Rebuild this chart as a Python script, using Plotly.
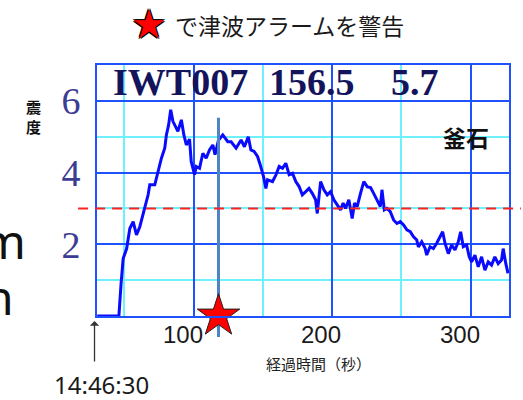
import plotly.graph_objects as go

# ---- data ----
time_s = [30.5, 46.1, 47.6, 49.2, 51.7, 54.0, 56.4, 58.8, 61.2, 64.8, 67.2, 68.4, 72.0, 74.4,
          76.8, 79.2, 80.4, 82.0, 83.5, 85.1, 86.8, 88.7, 91.2, 93.0, 94.8, 97.1, 98.3,
          100.7, 101.9, 104.3, 106.7, 109.1, 111.5, 113.9, 115.5, 118.0, 121.1, 124.7,
          127.1, 130.7, 134.3, 136.7, 139.5, 141.4, 143.7, 146.2, 148.1, 150.5, 152.2,
          153.4, 157.0, 159.4, 161.8, 164.2, 166.6, 169.0, 171.4, 173.8, 176.2, 178.5,
          181.0, 183.3, 185.7, 188.1, 189.3, 191.7, 194.1, 196.5, 198.9, 201.3, 203.7,
          206.1, 208.0, 209.7, 212.1, 214.5, 216.2, 218.1, 220.5, 222.9, 225.5, 227.8,
          230.0, 232.4, 234.8, 236.0, 237.7, 239.6, 242.0, 244.4, 246.8, 249.2, 251.6,
          254.0, 256.4, 258.8, 261.1, 262.3, 264.7, 267.2, 268.3, 270.7, 273.1, 275.5,
          277.9, 279.8, 281.5, 283.9, 286.3, 288.7, 291.1, 292.8, 294.7, 297.1, 299.0,
          300.7, 303.1, 305.5, 307.9, 310.3, 312.7, 315.1, 317.5, 319.9, 322.3, 323.5,
          325.4, 327.0]
intensity = [0.0, 0.0, 0.86, 1.6, 1.88, 2.44, 2.63, 2.26, 2.49, 3.0, 3.38, 3.66, 3.66, 4.03,
             4.4, 4.68, 5.05, 5.33, 5.75, 5.43, 5.3, 5.15, 5.47, 5.05, 4.77, 4.93, 4.31,
             3.94, 4.17, 4.12, 4.54, 4.40, 4.63, 4.77, 4.5, 4.9, 5.05, 4.86,
             4.86, 4.68, 4.91, 4.72, 5.0, 4.63, 4.59, 4.45, 4.22, 3.89, 3.56,
             3.8, 3.75, 3.93, 4.17, 4.12, 4.26, 3.94, 3.98, 3.75, 3.61, 3.38,
             3.47, 3.56, 3.42, 3.24, 2.86, 3.75, 3.52, 3.38, 3.47, 3.24, 3.1,
             2.96, 3.15, 3.0, 3.24, 2.72, 3.15, 3.05, 3.42, 3.75, 3.6, 3.58,
             3.42, 3.24, 3.05, 3.52, 2.96, 3.0, 2.91, 2.68, 2.58, 2.63, 2.54,
             2.40, 2.35, 2.21, 2.12, 1.93, 2.07, 1.88, 1.70, 1.93, 1.88, 2.03,
             2.21, 2.35, 2.03, 1.74, 1.98, 1.84, 2.07, 2.35, 1.93, 1.98, 1.65,
             1.51, 1.70, 1.37, 1.65, 1.28, 1.51, 1.42, 1.65, 1.46, 1.56, 1.88,
             1.46, 1.19]

x_ticks = [100, 200, 300]
x_tick_text = ["100", "200", "300"]
y_ticks = [2, 4, 6]
y_tick_text = ["2", "4", "6"]
x_range = [30.3, 327.7]
y_range = [0, 7]

alarm_time = 118.0
alarm_line_top = 5.53
alarm_threshold = 3.0

header_parts = ["IWT007", "156.5", "5.7"]
station = "釜石"
y_title = "震<br>度"
x_title = "経過時間（秒）"
start_time = "14:46:30"
top_note = "で津波アラームを警告"
side_fragments = ["m", "n"]

# ---- geometry helpers (pixel -> paper) ----
W, H = 523, 400
L, R, T, B = 97, 12, 65, 84
PW, PH = W - L - R, H - T - B


def px_x(p):
    return (p - L) / PW


def px_y(p):
    return (H - B - p) / PH


BLUE = "#1f52ff"
CYAN = "#6ff0ff"

fig = go.Figure()
fig.add_trace(go.Scatter(x=time_s, y=intensity, mode="lines",
                         line=dict(color="#0a0aff", width=3), hoverinfo="skip",
                         showlegend=False))
fig.add_trace(go.Scatter(x=[alarm_time, alarm_time], y=[0, alarm_line_top], mode="lines",
                         line=dict(color="#4f84c4", width=3), showlegend=False))
fig.add_trace(go.Scatter(x=[alarm_time], y=[0], mode="markers", cliponaxis=False,
                         marker=dict(symbol="star", size=32, color="#ff0000",
                                     line=dict(color="#222222", width=1)),
                         showlegend=False))

axis_common = dict(showline=True, mirror=True, linecolor=BLUE, linewidth=2,
                   showgrid=True, gridcolor=BLUE, gridwidth=2, zeroline=False,
                   ticks="")
fig.update_xaxes(range=x_range, tickvals=x_ticks, showticklabels=False,
                 minor=dict(tick0=0, dtick=50, showgrid=True, gridcolor=CYAN, gridwidth=1.5),
                 **axis_common)
fig.update_yaxes(range=y_range, tickvals=y_ticks, ticktext=y_tick_text,
                 tickfont=dict(family="Liberation Serif", size=38, color="#3c3c92"),
                 ticklabelstandoff=7,
                 minor=dict(tick0=0, dtick=1, showgrid=True, gridcolor=CYAN, gridwidth=1.5),
                 **axis_common)

fig.add_shape(type="line", xref="paper", yref="y", x0=px_x(78), x1=px_x(523),
              y0=alarm_threshold, y1=alarm_threshold,
              line=dict(color="#ff2020", width=2, dash="10px,7px"))
fig.add_shape(type="line", xref="x", yref="paper", x0=alarm_time, x1=alarm_time,
              y0=px_y(337), y1=0, line=dict(color="#4f84c4", width=3), layer="below")

ann = []
for v, t in zip(x_ticks, x_tick_text):
    ann.append(dict(x=v, xref="x", y=px_y(334), yref="paper", text=t, showarrow=False,
                    xshift=-11, xanchor="center", yanchor="middle",
                    font=dict(family="Liberation Sans", size=24, color="#1a1a1a")))

header_x = [181, 313, 417]
for t, xp in zip(header_parts, header_x):
    ann.append(dict(x=px_x(xp), y=px_y(82), xref="paper", yref="paper", text="<b>%s</b>" % t,
                    showarrow=False, xanchor="center", yanchor="middle",
                    font=dict(family="Liberation Serif", size=38, color="#14145c")))

ann.append(dict(x=px_x(468), y=px_y(137), xref="paper", yref="paper",
                text="<b>%s</b>" % station, showarrow=False, xanchor="center",
                yanchor="middle", font=dict(family="Noto Sans CJK JP", size=23, color="#111111")))
ann.append(dict(x=px_x(33), y=px_y(116), xref="paper", yref="paper",
                text="<b>%s</b>" % y_title, showarrow=False, xanchor="center",
                yanchor="middle", font=dict(family="Noto Sans CJK JP", size=15, color="#111111")))
ann.append(dict(x=px_x(320), y=px_y(363), xref="paper", yref="paper", text=x_title,
                showarrow=False, xanchor="center", yanchor="middle",
                font=dict(family="Noto Sans CJK JP", size=15, color="#222222")))
ann.append(dict(x=px_x(102), y=px_y(384), xref="paper", yref="paper", text=start_time,
                showarrow=False, xanchor="center", yanchor="middle",
                font=dict(family="Noto Sans", size=24, color="#1a1a1a")))
# arrow pointing to the start of the record
ann.append(dict(x=px_x(94.5), y=px_y(321), xref="paper", yref="paper", text="",
                showarrow=True, ax=0, ay=42, arrowhead=1, arrowsize=1.2, arrowwidth=1.3,
                arrowcolor="#333333"))
# top note with star
ann.append(dict(x=px_x(149), y=px_y(24), xref="paper", yref="paper", text="★",
                showarrow=False, xanchor="center", yanchor="middle",
                font=dict(family="DejaVu Sans", size=40, color="#ff0000",
                          shadow="-1px -1px 0 #000, 1px -1px 0 #000, -1px 1px 0 #000, 1px 1px 0 #000")))
ann.append(dict(x=px_x(173), y=px_y(25), xref="paper", yref="paper", text=top_note,
                showarrow=False, xanchor="left", yanchor="middle",
                font=dict(family="Noto Sans CJK JP", size=23, color="#1a1a1a")))
# cut-off slide text at the left edge
ann.append(dict(x=px_x(28), y=px_y(240), xref="paper", yref="paper", text=side_fragments[0],
                showarrow=False, xanchor="right", yanchor="middle",
                font=dict(family="Noto Sans", size=48, color="#111111")))
ann.append(dict(x=px_x(16), y=px_y(296), xref="paper", yref="paper", text=side_fragments[1],
                showarrow=False, xanchor="right", yanchor="middle",
                font=dict(family="Noto Sans", size=48, color="#111111")))

fig.update_layout(width=W, height=H, margin=dict(l=L, r=R, t=T, b=B),
                  paper_bgcolor="white", plot_bgcolor="white", annotations=ann,
                  showlegend=False)

fig.write_html("out.html")
